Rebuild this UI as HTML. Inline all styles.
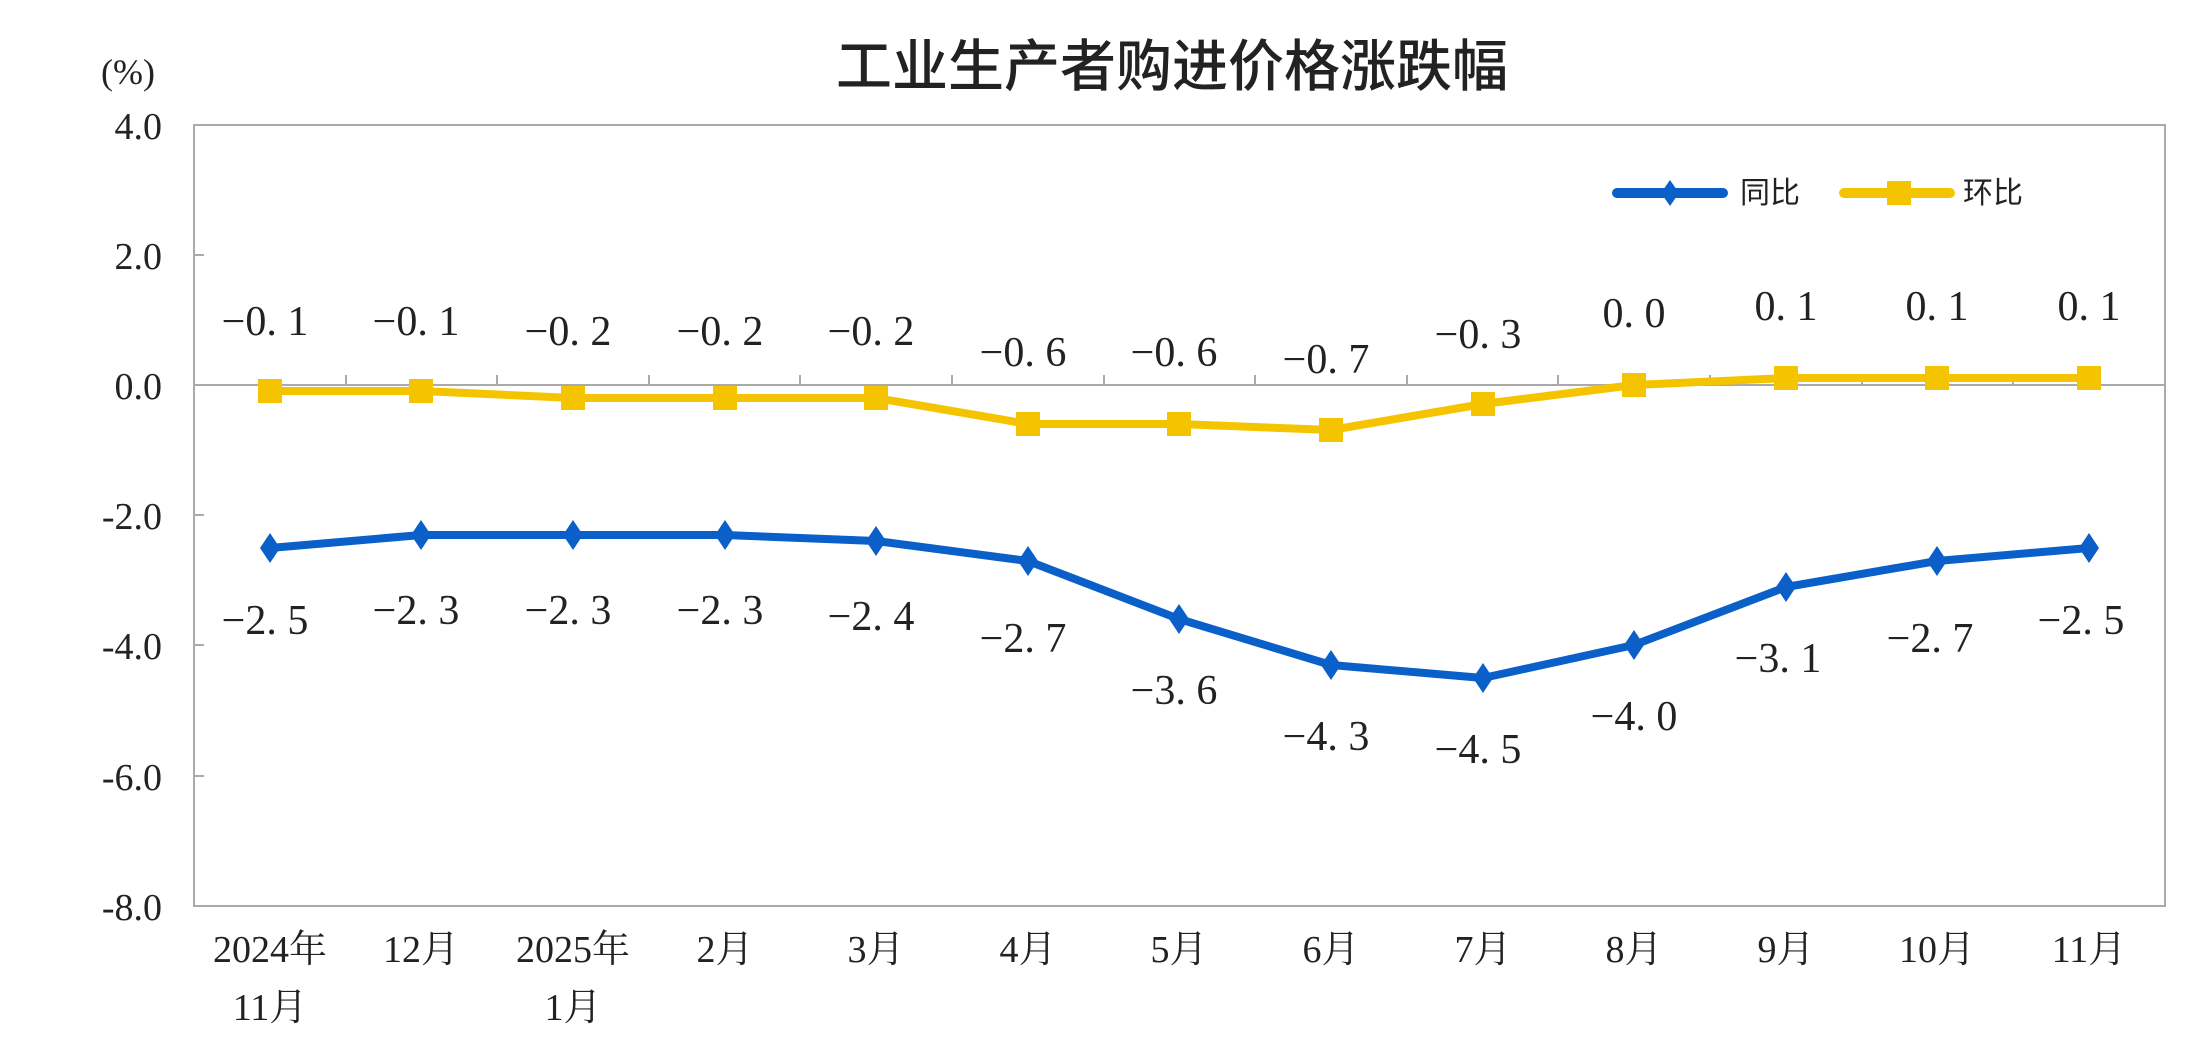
<!DOCTYPE html>
<html><head><meta charset="utf-8"><style>
html,body{margin:0;padding:0;background:#fff;}
svg text{font-family:"Liberation Serif","Noto Serif CJK SC",serif;fill:#222;}
</style></head><body>
<svg width="2208" height="1059" xmlns="http://www.w3.org/2000/svg">
<rect width="2208" height="1059" fill="#fff"/>
<text x="1172" y="86" font-size="56" text-anchor="middle" style="font-family:'Noto Sans CJK SC',sans-serif;font-weight:500" fill="#222">工业生产者购进价格涨跌幅</text>
<text x="128" y="84" font-size="36" text-anchor="middle">(%)</text>
<rect x="194" y="125" width="1971" height="781" fill="none" stroke="#aaa" stroke-width="2"/>
<line x1="194" y1="385" x2="2165" y2="385" stroke="#aaa" stroke-width="2"/>
<g stroke="#aaa" stroke-width="2">
<line x1="194" y1="255" x2="204" y2="255"/><line x1="194" y1="515" x2="204" y2="515"/>
<line x1="194" y1="645" x2="204" y2="645"/><line x1="194" y1="776" x2="204" y2="776"/>
<line x1="346" y1="375" x2="346" y2="385"/><line x1="497" y1="375" x2="497" y2="385"/>
<line x1="649" y1="375" x2="649" y2="385"/><line x1="800" y1="375" x2="800" y2="385"/>
<line x1="952" y1="375" x2="952" y2="385"/><line x1="1104" y1="375" x2="1104" y2="385"/>
<line x1="1255" y1="375" x2="1255" y2="385"/><line x1="1407" y1="375" x2="1407" y2="385"/>
<line x1="1558" y1="375" x2="1558" y2="385"/><line x1="1710" y1="375" x2="1710" y2="385"/>
<line x1="1862" y1="375" x2="1862" y2="385"/><line x1="2013" y1="375" x2="2013" y2="385"/>
</g>
<g font-size="38" text-anchor="end">
<text x="162" y="139">4.0</text><text x="162" y="269">2.0</text><text x="162" y="399">0.0</text>
<text x="162" y="529">-2.0</text><text x="162" y="659">-4.0</text><text x="162" y="790">-6.0</text><text x="162" y="920">-8.0</text>
</g>
<g font-size="38" text-anchor="middle">
<text x="270" y="962">2024年</text><text x="270" y="1020">11月</text>
<text x="421" y="962">12月</text>
<text x="573" y="962">2025年</text><text x="573" y="1020">1月</text>
<text x="725" y="962">2月</text><text x="876" y="962">3月</text><text x="1028" y="962">4月</text>
<text x="1179" y="962">5月</text><text x="1331" y="962">6月</text><text x="1483" y="962">7月</text>
<text x="1634" y="962">8月</text><text x="1786" y="962">9月</text><text x="1937" y="962">10月</text><text x="2089" y="962">11月</text>
</g>
<polyline fill="none" stroke="#f5c400" stroke-width="8" stroke-linejoin="round" points="270,391 421,391 573,398 725,398 876,398 1028,424 1179,424 1331,430 1483,404 1634,385 1786,378 1937,378 2089,378"/>
<g fill="#f5c400">
<rect x="258" y="379" width="24" height="24"/><rect x="409" y="379" width="24" height="24"/><rect x="561" y="386" width="24" height="24"/>
<rect x="713" y="386" width="24" height="24"/><rect x="864" y="386" width="24" height="24"/><rect x="1016" y="412" width="24" height="24"/>
<rect x="1167" y="412" width="24" height="24"/><rect x="1319" y="418" width="24" height="24"/><rect x="1471" y="392" width="24" height="24"/>
<rect x="1622" y="373" width="24" height="24"/><rect x="1774" y="366" width="24" height="24"/><rect x="1925" y="366" width="24" height="24"/><rect x="2077" y="366" width="24" height="24"/>
</g>
<polyline fill="none" stroke="#0a5fc8" stroke-width="8" stroke-linejoin="round" points="270,548 421,535 573,535 725,535 876,541 1028,561 1179,619 1331,665 1483,678 1634,645 1786,587 1937,561 2089,548"/>
<g fill="#0a5fc8">
<path d="M270,533l10,15l-10,15l-10,-15z"/><path d="M421,520l10,15l-10,15l-10,-15z"/><path d="M573,520l10,15l-10,15l-10,-15z"/>
<path d="M725,520l10,15l-10,15l-10,-15z"/><path d="M876,526l10,15l-10,15l-10,-15z"/><path d="M1028,546l10,15l-10,15l-10,-15z"/>
<path d="M1179,604l10,15l-10,15l-10,-15z"/><path d="M1331,650l10,15l-10,15l-10,-15z"/><path d="M1483,663l10,15l-10,15l-10,-15z"/>
<path d="M1634,630l10,15l-10,15l-10,-15z"/><path d="M1786,572l10,15l-10,15l-10,-15z"/><path d="M1937,546l10,15l-10,15l-10,-15z"/><path d="M2089,533l10,15l-10,15l-10,-15z"/>
</g>
<g font-size="42" text-anchor="middle">
<text x="265" y="335">−0. 1</text><text x="416" y="335">−0. 1</text><text x="568" y="345">−0. 2</text>
<text x="720" y="345">−0. 2</text><text x="871" y="345">−0. 2</text><text x="1023" y="366">−0. 6</text>
<text x="1174" y="366">−0. 6</text><text x="1326" y="373">−0. 7</text><text x="1478" y="348">−0. 3</text>
<text x="1634" y="327">0. 0</text><text x="1786" y="320">0. 1</text><text x="1937" y="320">0. 1</text><text x="2089" y="320">0. 1</text>
<text x="265" y="634">−2. 5</text><text x="416" y="624">−2. 3</text><text x="568" y="624">−2. 3</text>
<text x="720" y="624">−2. 3</text><text x="871" y="630">−2. 4</text><text x="1023" y="652">−2. 7</text>
<text x="1174" y="704">−3. 6</text><text x="1326" y="750">−4. 3</text><text x="1478" y="763">−4. 5</text>
<text x="1634" y="730">−4. 0</text><text x="1778" y="672">−3. 1</text><text x="1930" y="652">−2. 7</text><text x="2081" y="634">−2. 5</text>
</g>
<line x1="1617" y1="193" x2="1723" y2="193" stroke="#0a5fc8" stroke-width="10" stroke-linecap="round"/>
<path d="M1670,180l9,13l-9,13l-9,-13z" fill="#0a5fc8"/>
<text x="1740" y="203" font-size="30" style="font-family:'Noto Sans CJK SC',sans-serif">同比</text>
<line x1="1844" y1="193" x2="1950" y2="193" stroke="#f5c400" stroke-width="10" stroke-linecap="round"/>
<rect x="1887" y="181" width="24" height="24" fill="#f5c400"/>
<text x="1963" y="203" font-size="30" style="font-family:'Noto Sans CJK SC',sans-serif">环比</text>
</svg>
</body></html>
